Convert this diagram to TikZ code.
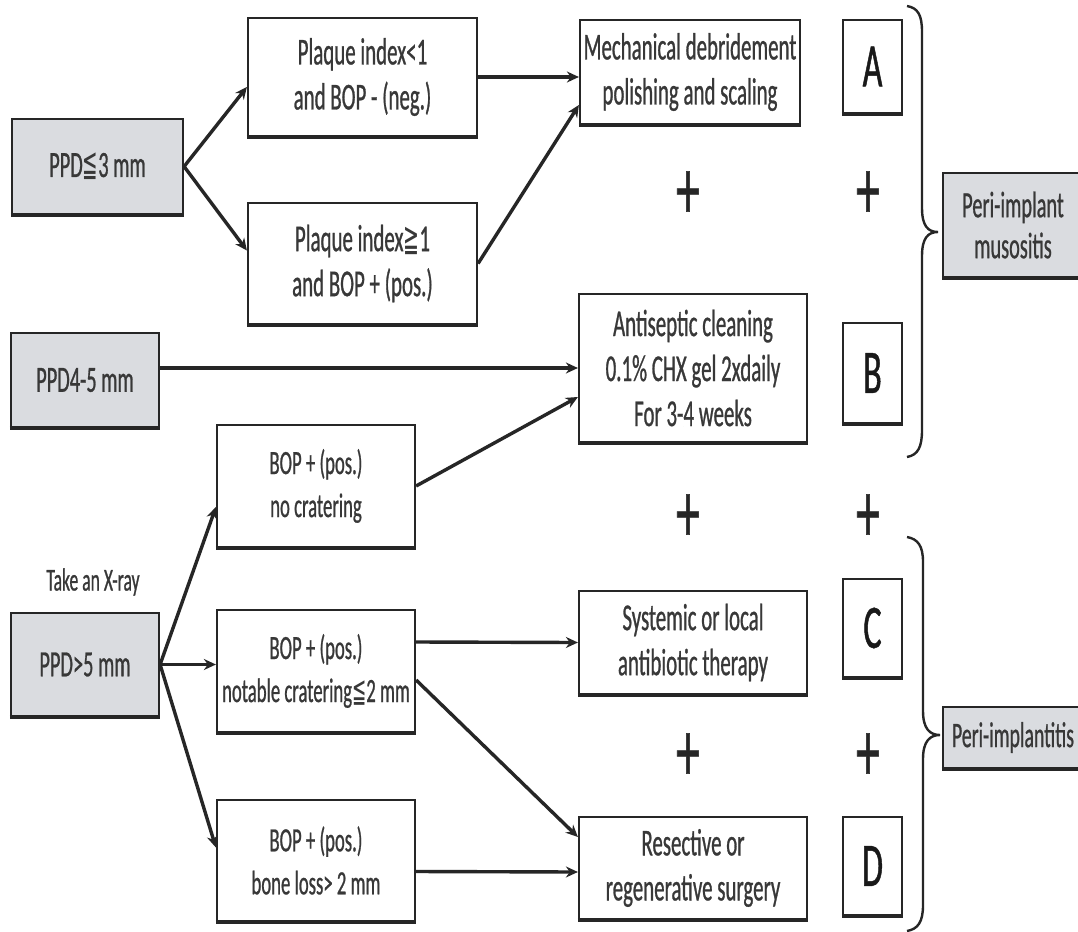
\documentclass[tikz,border=0pt]{standalone}
\usepackage{fontspec}
\setmainfont{Carlito}[FakeStretch=0.55,FakeBold=0.7]
\newfontfamily\symf{DejaVu Sans}[FakeStretch=0.5]
\usetikzlibrary{arrows.meta,calc}
\newcommand{\myleqq}{{\symf\char"2266}}
\newcommand{\mygeqq}{{\symf\char"2267}}
\definecolor{lc}{HTML}{262626}
\definecolor{tc}{HTML}{383838}
\definecolor{gfill}{HTML}{DADCE0}
\tikzset{
  box/.style={draw=lc, line width=2.2pt, fill=white, align=center, text=tc,
    inner sep=0pt, font=\fontsize{38}{45}\selectfont,
    append after command={(\tikzlastnode.south west) edge[draw=lc,line width=4pt] (\tikzlastnode.south east)}},
  bopbox/.style={box, font=\fontsize{34}{43}\selectfont},
  gbox/.style={box, fill=gfill, font=\fontsize{37}{42}\selectfont},
  letbox/.style={box, text=black!90, font=\fontsize{62}{64}\selectfont},
  plus/.style={text=lc, inner sep=0pt, font=\fontsize{86}{86}\selectfont},
  arr/.style={draw=lc, line width=3.4pt, -{Stealth[length=12pt,width=11pt]}},
  brace/.style={draw=lc, line width=2.4pt}
}
\begin{document}
\begin{tikzpicture}[x=1pt,y=-1pt]
\useasboundingbox (0,0) rectangle (1078,931);
\clip (0,0) rectangle (1078,931);
\fill[white] (0,0) rectangle (1078,931);

% left column
\node[gbox, minimum width=171pt, minimum height=95pt] (p3) at (97.5,166.5) {PPD\myleqq3 mm};
\node[gbox, minimum width=148pt, minimum height=94pt] (p45) at (85,380) {PPD4-5 mm};
\node[text=tc, font=\fontsize{32}{34}\selectfont, inner sep=0pt] (xray) at (93,582) {Take an X-ray};
\node[gbox, minimum width=148pt, minimum height=103pt] (p5) at (85,664.5) {PPD>5 mm};

% second column
\node[box, minimum width=229pt, minimum height=118pt] (pl1) at (362.5,77) {Plaque index<1\\and BOP - (neg.)};
\node[box, minimum width=229pt, minimum height=121pt] (pl2) at (362.5,263.5) {Plaque index\mygeqq1\\and BOP + (pos.)};
\node[bopbox, minimum width=198pt, minimum height=122pt] (bop1) at (316,486) {BOP + (pos.)\\no cratering};
\node[bopbox, minimum width=198pt, minimum height=122pt] (bop2) at (316,671) {BOP + (pos.)\\notable cratering\myleqq2 mm};
\node[bopbox, minimum width=198pt, minimum height=121pt] (bop3) at (316,860.5) {BOP + (pos.)\\bone loss> 2 mm};

% treatment column
\node[box, minimum width=220pt, minimum height=104pt] (mech) at (690,72) {Mechanical debridement\\polishing and scaling};
\node[box, minimum width=228pt, minimum height=148pt] (anti) at (693,368) {Antiseptic cleaning\\0.1\% CHX gel 2xdaily\\For 3-4 weeks};
\node[box, minimum width=228pt, minimum height=103pt] (sys) at (693,642.5) {Systemic or local\\antibiotic therapy};
\node[box, minimum width=228pt, minimum height=102pt] (res) at (693,868) {Resective or\\regenerative surgery};

% letters
\node[letbox, minimum width=59pt, minimum height=93pt] (A) at (872.5,66.5) {A};
\node[letbox, minimum width=59pt, minimum height=100pt] (B) at (872.5,373) {B};
\node[letbox, minimum width=59pt, minimum height=98pt] (C) at (872.5,628) {C};
\node[letbox, minimum width=59pt, minimum height=98pt] (D) at (872.5,866) {D};

% plus signs
\node[plus] (plus1) at (688,195) {+};
\node[plus] (plus2) at (868,195) {+};
\node[plus] (plus3) at (688,518) {+};
\node[plus] (plus4) at (868,518) {+};
\node[plus] (plus5) at (688,757) {+};
\node[plus] (plus6) at (868,757) {+};

% diagnoses
\node[gbox, minimum width=140pt, minimum height=104pt, font=\fontsize{37}{41}\selectfont] (muc) at (1013,225) {Peri-implant\\musositis};
\node[gbox, minimum width=140pt, minimum height=61pt, font=\fontsize{36}{38}\selectfont] (pit) at (1013,737.5) {Peri-implantitis};

% braces
\coordinate (br1) at (938,232);
\coordinate (br2) at (940,735);
\draw[brace] (907,6) .. controls (918,8) and (922,15) .. (922,32) -- (922,208)
  .. controls (922,226) and (928,232) .. (br1)
  .. controls (928,232) and (922,238) .. (922,256) -- (922,430)
  .. controls (922,447) and (918,455) .. (907,457);
\draw[brace] (907,537) .. controls (918,539) and (923,546) .. (923,562) -- (923,711)
  .. controls (923,729) and (930,735) .. (br2)
  .. controls (930,735) and (923,741) .. (923,759) -- (923,905)
  .. controls (923,922) and (918,929) .. (907,931);

% arrows
\draw[arr] (p3.east) -- ($(pl1.west)+(0,10)$);
\draw[arr] (p3.east) -- ($(pl2.west)+(0,-13)$);
\draw[arr] (pl1.east) -- (pl1.east -| mech.west);
\draw[arr] (pl2.east) -- ($(mech.west)+(0,33)$);
\draw[arr] ($(p45.east)+(0,-12)$) -- (anti.west);
\draw[arr] (bop1.east) -- ($(anti.west)+(0,29)$);
\draw[arr] (p5.east) -- ($(bop1.west)+(0,21)$);
\draw[arr] (p5.east) -- (p5.east -| bop2.west);
\draw[arr] (p5.east) -- ($(bop3.west)+(0,-13)$);
\draw[arr] ($(bop2.east)+(0,-29)$) -- (sys.west);
\draw[arr] ($(bop2.east)+(0,9)$) -- ($(res.west)+(0,-31)$);
\draw[arr] ($(bop3.east)+(0,11)$) -- ($(res.west)+(0,4)$);
\end{tikzpicture}
\end{document}
